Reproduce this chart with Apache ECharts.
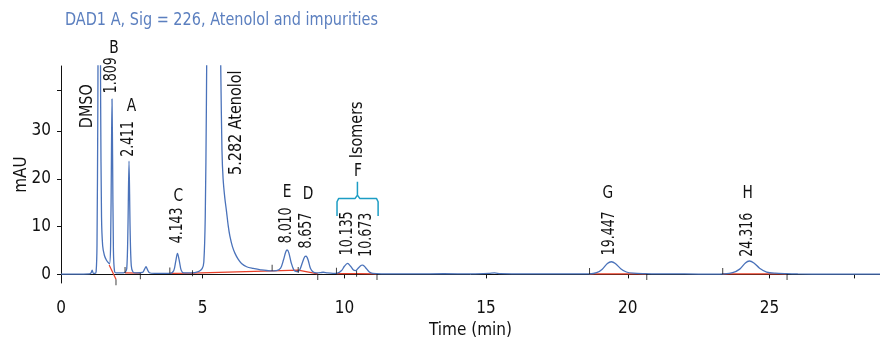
<!DOCTYPE html>
<html>
<head>
<meta charset="utf-8">
<script src="https://cdn.jsdelivr.net/npm/echarts@6/dist/echarts.min.js"></script>
<style>
html,body{margin:0;padding:0;background:#fff;}
#chart{width:880px;height:339px;}
</style>
</head>
<body>
<div id="chart"></div>
<script>
// ---- data (time in min, signal in mAU) ----
const chromTime = [0,0.5,1.0,1.06,1.10,1.14,1.20,1.24,1.27,1.30,1.33,1.37,1.40,1.43,1.47,1.53,1.60,1.66,1.71,1.75,1.78,1.80,1.82,1.85,1.89,1.95,2.10,2.25,2.32,2.36,2.40,2.44,2.48,2.54,2.65,2.88,2.95,3.00,3.05,3.12,3.30,3.85,3.98,4.05,4.11,4.17,4.24,4.33,4.60,4.85,4.98,5.04,5.09,5.13,5.17,5.28,5.45,5.58,5.64,5.68,5.72,5.78,5.84,5.90,5.96,6.05,6.14,6.25,6.37,6.55,6.78,7.05,7.37,7.60,7.75,7.85,7.93,7.98,8.04,8.12,8.22,8.32,8.42,8.52,8.60,8.65,8.72,8.80,8.90,9.00,9.15,9.25,9.40,9.60,9.75,9.90,10.00,10.11,10.22,10.32,10.40,10.50,10.60,10.65,10.75,10.88,11.00,11.30,12.5,13.5,14.5,15.1,15.3,15.5,16.5,17.5,18.3,18.65,18.9,19.1,19.28,19.42,19.56,19.75,19.95,20.2,20.6,21.0,22.0,23.0,23.4,23.7,23.95,24.15,24.29,24.45,24.65,24.9,25.2,25.6,26.0,27.0,28.0,28.9];
const chromSignal = [0.05,0.05,0.1,0.3,0.9,0.2,0.2,0.6,6,35,70,70,35,12,6,4,3,2.5,2.2,6,25,36.7,25,5,0.6,0.3,0.3,0.4,1.2,9,23.7,9,1.8,0.5,0.3,0.4,1.1,1.6,1.0,0.35,0.2,0.2,0.8,2.8,4.4,3.0,0.9,0.3,0.3,0.6,1.2,2.6,12,35,70,160,120,70,42,26,20,16,13.2,10.2,8,5.8,4.4,3.2,2.3,1.6,1.25,0.95,0.75,0.8,1.3,3,4.7,5.1,4.5,2.5,0.9,0.6,0.9,2.5,3.7,3.8,3.0,1.3,0.5,0.3,0.35,0.45,0.3,0.2,0.25,0.8,1.7,2.3,1.7,0.9,0.8,1.4,1.9,1.95,1.4,0.5,0.2,0.1,0.1,0.15,0.1,0.2,0.3,0.15,0.1,0.1,0.1,0.1,0.35,1.1,2.3,2.65,2.3,1.2,0.5,0.25,0.15,0.1,0.1,0.05,0.1,0.35,1.1,2.4,2.8,2.4,1.3,0.5,0.25,0.15,0.1,0.05,0.05,0.05];

// integration baselines: [time, mAU] pairs per segment
const baselineSegments = [
  [[1.70,1.95],[1.94,-1.0]],
  [[2.26,0.3],[2.80,0.25]],
  [[3.84,0.2],[4.64,0.25],[7.45,0.75],[8.37,0.9],[9.06,0.1]],
  [[9.72,0.15],[10.43,0.15],[11.15,0.1]],
  [[18.65,0.1],[20.67,0.1]],
  [[23.35,0.1],[25.62,0.1]]
];
const startTicks = [[2.26,0.3],[3.84,0.2],[7.45,0.75],[9.72,0.15],[18.65,0.1],[23.35,0.1]];
const midTicks = [[4.64,0.25],[8.37,0.9],[10.43,0.15]];
const endTicks = [[1.94,-1.0],[2.80,0.25],[9.06,0.1],[11.15,0.1],[20.67,0.1],[25.62,0.1]];

// rotated annotations: [time, mAU (bottom of text), text]
const rotatedLabels = [
  [0.93,30.6,'DMSO'],
  [1.79,37.9,'1.809'],
  [2.37,24.6,'2.411'],
  [4.10,6.5,'4.143'],
  [6.20,20.8,'5.282 Atenolol'],
  [7.96,6.5,'8.010'],
  [8.66,5.4,'8.657'],
  [10.13,4.0,'10.135'],
  [10.78,3.7,'10.673'],
  [10.48,24.3,'Isomers'],
  [19.36,4.0,'19.447'],
  [24.23,3.7,'24.316']
];
// peak letters: [time, mAU (centre), text]
const letterLabels = [
  [1.87,47.3,'B'],[2.49,35.1,'A'],[4.14,16.2,'C'],[7.98,17.1,'E'],[8.72,16.6,'D'],
  [10.48,21.5,'F'],[19.30,16.9,'G'],[24.23,16.9,'H']
];
// brace over isomers
const braceTime = [9.74,9.74,9.80,10.38,10.46,10.46,10.46,10.54,11.13,11.19,11.19];
const braceLevel = [12.2,15.2,15.9,15.9,16.6,19.4,16.6,15.9,15.9,15.2,12.2];

const xTicks = [0,5,10,15,20,25,28];
const xTickLabels = [0,5,10,15,20,25];
const yTicks = [0,10,20,30,38.6];
const yTickLabels = [0,10,20,30];

const FONT = "'DejaVu Sans Condensed','Liberation Sans Narrow',sans-serif";
const BLUE = '#4a72ba', RED = '#e8402a', INK = '#111';

const series = [];
series.push({
  type:'line', data: chromTime.map((t,i)=>[t, chromSignal[i]]),
  showSymbol:false, smooth:0.3, clip:true, silent:true, z:3,
  lineStyle:{color:BLUE, width:1.3}
});
baselineSegments.forEach(seg=>{
  series.push({type:'line', data:seg, showSymbol:false, silent:true, z:2,
    lineStyle:{color:RED, width:1.2}});
});
const tickSeries = (data, off)=>({type:'scatter', data, symbol:'rect', symbolSize:[1,6],
  symbolOffset:[0,off], itemStyle:{color:INK}, silent:true, z:4, clip:false});
series.push(tickSeries(startTicks,-3));
series.push(tickSeries(midTicks,0));
series.push(tickSeries(endTicks,3));
series.push({type:'line', data: braceTime.map((t,i)=>[t, braceLevel[i]]), showSymbol:false,
  silent:true, z:4, lineStyle:{color:'#1c9dc4', width:1.5}});

// condensed text annotations drawn through the axes' coordinate system
series.push({type:'custom', silent:true, z:5, clip:false,
  data: rotatedLabels.map(d=>[d[0],d[1]]),
  renderItem:(params, api)=>{
    const p = api.coord([api.value(0), api.value(1)]);
    const txt = rotatedLabels[params.dataIndex][2];
    const numeric = /^[0-9.]+$/.test(txt);
    return {type:'text', x:p[0], y:p[1], rotation:Math.PI/2, scaleX: numeric ? 0.82 : 0.94,
      style:{text:txt, fill:INK, fontFamily:FONT, fontSize:17, align:'left', verticalAlign:'middle'}};
  }});
series.push({type:'custom', silent:true, z:5, clip:false,
  data: letterLabels.map(d=>[d[0],d[1]]),
  renderItem:(params, api)=>{
    const p = api.coord([api.value(0), api.value(1)]);
    return {type:'text', x:p[0], y:p[1], scaleX:0.9,
      style:{text:letterLabels[params.dataIndex][2], fill:INK, fontFamily:FONT, fontSize:17,
        align:'center', verticalAlign:'middle'}};
  }});

const option = {
  animation:false,
  backgroundColor:'#fff',
  graphic:[{type:'text', x:65, y:20.5, scaleX:0.945, silent:true,
    style:{text:'DAD1 A, Sig = 226, Atenolol and impurities', fill:'#5b7fbf', fontFamily:FONT,
      fontSize:17, align:'left', verticalAlign:'middle'}}],
  grid:{left:61, right:0, top:66, bottom:56, outerBoundsMode:'none', containLabel:false},
  xAxis:{type:'value', min:0, max:28.9, offset:6,
    name:'Time (min)', nameLocation:'middle', nameGap:33,
    nameTextStyle:{fontFamily:FONT, fontSize:17, color:INK},
    axisLine:{show:true, lineStyle:{color:INK, width:1}},
    axisTick:{show:true, length:4, customValues:xTicks, lineStyle:{color:INK}},
    axisLabel:{customValues:xTickLabels, margin:11, fontFamily:FONT, fontSize:17, color:INK},
    splitLine:{show:false}},
  yAxis:{type:'value', min:-1.8, max:43.6,
    name:'mAU', nameLocation:'middle', nameGap:31, nameRotate:90, nameMoveOverlap:false,
    nameTextStyle:{fontFamily:FONT, fontSize:17, color:INK},
    axisLine:{show:true, lineStyle:{color:INK, width:1}},
    axisTick:{show:true, length:4, customValues:yTicks, lineStyle:{color:INK}},
    axisLabel:{customValues:yTickLabels, margin:10, fontFamily:FONT, fontSize:17, color:INK},
    splitLine:{show:false}},
  series
};
const chart = echarts.init(document.getElementById('chart'), null, {renderer:'canvas'});
chart.setOption(option);
</script>
</body>
</html>
